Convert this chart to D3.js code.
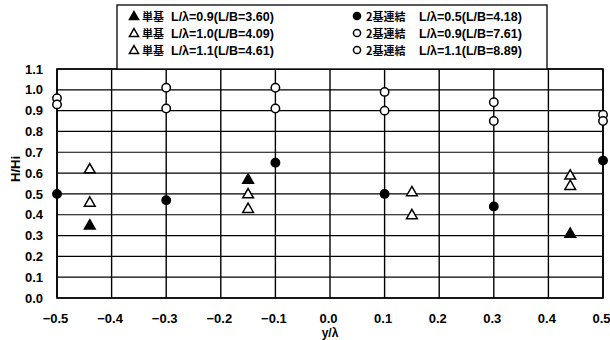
<!DOCTYPE html>
<html><head><meta charset="utf-8">
<script src="https://cdn.jsdelivr.net/npm/d3@7"></script>
<style>body{margin:0;background:#fff}svg{display:block}</style>
</head><body><svg id="c" width="610" height="340"></svg>
<script>
const xTicks = [-0.5,-0.4,-0.3,-0.2,-0.1,0.0,0.1,0.2,0.3,0.4,0.5];
const yTicks = [0,0.1,0.2,0.3,0.4,0.5,0.6,0.7,0.8,0.9,1.0,1.1];
const xTickLabels = ["−0.5","−0.4","−0.3","−0.2","−0.1","0.0","0.1","0.2","0.3","0.4","0.5"];
const yTickLabels = ["0.0","0.1","0.2","0.3","0.4","0.5","0.6","0.7","0.8","0.9","1.0","1.1"];

const seriesType = ["単基","単基","単基","2基連結","2基連結","2基連結"];
const seriesCond = [
  "L/λ=0.9(L/B=3.60)",
  "L/λ=1.0(L/B=4.09)",
  "L/λ=1.1(L/B=4.61)",
  "L/λ=0.5(L/B=4.18)",
  "L/λ=0.9(L/B=7.61)",
  "L/λ=1.1(L/B=8.89)"
];
const seriesShape = ["tri","tri","tri","circ","circ","circ"];
const seriesFilled = [true,false,false,true,false,false];

const singleX = [-0.44,-0.15,0.15,0.44];
const single09 = [0.35,0.57,null,0.31];
const single10 = [0.62,0.50,0.51,0.59];
const single11 = [0.46,0.43,0.40,0.54];
const pairX = [-0.5,-0.3,-0.1,0.1,0.3,0.5];
const pair05 = [0.50,0.47,0.65,0.50,0.44,0.66];
const pair09 = [0.96,1.01,1.01,0.99,0.94,0.88];
const pair11 = [0.93,0.91,0.91,0.90,0.85,0.85];

const seriesX = [singleX,singleX,singleX,pairX,pairX,pairX];
const seriesY = [single09,single10,single11,pair05,pair09,pair11];

const svg = d3.select("#c");
const L=57,R=603,T=69,B=298;
const x = d3.scaleLinear().domain([-0.5,0.5]).range([L,R]);
const y = d3.scaleLinear().domain([0,1.1]).range([B,T]);
const fontNum = "'Liberation Sans Narrow','Liberation Sans',Arial,sans-serif";
const fontLat = "'Liberation Sans',Arial,sans-serif";
const fontCJK = "'Noto Sans CJK JP','Liberation Sans',sans-serif";

// grid
const g = svg.append("g");
g.selectAll("line.h").data(yTicks).enter().append("line")
  .attr("x1",L).attr("x2",R).attr("y1",d=>y(d)).attr("y2",d=>y(d))
  .attr("stroke","#000").attr("stroke-width",1.2);
g.selectAll("line.v").data(xTicks).enter().append("line")
  .attr("y1",T).attr("y2",B).attr("x1",d=>x(d)).attr("x2",d=>x(d))
  .attr("stroke","#000").attr("stroke-width",1.4);
g.append("rect").attr("x",L).attr("y",T).attr("width",R-L).attr("height",B-T)
  .attr("fill","none").attr("stroke","#000").attr("stroke-width",1.6);

const xAxis = d3.axisBottom(x).tickValues(xTicks).tickSize(0).tickPadding(16)
  .tickFormat((d,i)=>xTickLabels[i]);
const gx = svg.append("g").attr("transform",`translate(0,${B})`).call(xAxis);
gx.select(".domain").remove();
gx.selectAll("text").attr("font-family",fontNum).attr("font-weight","bold").attr("font-size",13).attr("fill","#000").attr("dx",-2);

const yAxis = d3.axisLeft(y).tickValues(yTicks).tickSize(0).tickPadding(14)
  .tickFormat((d,i)=>yTickLabels[i]);
const gy = svg.append("g").attr("transform",`translate(${L},0)`).call(yAxis);
gy.select(".domain").remove();
gy.selectAll("text").attr("font-family",fontNum).attr("font-weight","bold").attr("font-size",13).attr("fill","#000");

svg.append("text").attr("x",330).attr("y",337).attr("text-anchor","middle")
  .attr("font-family",fontNum).attr("font-weight","bold").attr("font-size",12).text("y/λ");
svg.append("text").attr("transform","translate(20,169) rotate(-90)").attr("text-anchor","middle")
  .attr("font-family",fontNum).attr("font-weight","bold").attr("font-size",13).text("H/Hi");

function drawMarker(sel, shape, filled, cx, cy, scale){
  const s = scale||1;
  if(shape==="circ"){
    sel.append("circle").attr("cx",cx).attr("cy",cy).attr("r",4.2*s)
      .attr("fill",filled?"#000":"#fff").attr("stroke","#000").attr("stroke-width",1.5);
  } else {
    const sym = d3.symbol().type(d3.symbolTriangle).size(50*s*s);
    sel.append("path").attr("d",sym()).attr("transform",`translate(${cx},${cy+0.8})`)
      .attr("fill",filled?"#000":"#fff").attr("stroke","#000").attr("stroke-width",1.5);
  }
}

const pg = svg.append("g");
seriesY.forEach((vals,si)=>{
  vals.forEach((v,i)=>{
    if(v==null) return;
    drawMarker(pg, seriesShape[si], seriesFilled[si], x(seriesX[si][i]), y(v));
  });
});

// legend
const lg = svg.append("g");
lg.append("rect").attr("x",117).attr("y",5).attr("width",430).attr("height",T-5)
  .attr("fill","#fff").attr("stroke","#000").attr("stroke-width",1.3);
const colX=[134,357], typeX=[142,366], condX=[171,419], rowY=[16,33,50];
seriesType.forEach((nm,i)=>{
  const c=Math.floor(i/3), r=i%3;
  drawMarker(lg, seriesShape[i], seriesFilled[i], colX[c], rowY[r], 0.85);
  lg.append("text").attr("x",typeX[c]).attr("y",rowY[r]+4.5)
    .attr("font-family",fontCJK).attr("font-weight","bold").attr("font-size",11).text(nm);
  lg.append("text").attr("x",condX[c]).attr("y",rowY[r]+5)
    .attr("font-family",fontLat).attr("font-weight","bold").attr("font-size",12.5).text(seriesCond[i]);
});
</script></body></html>
